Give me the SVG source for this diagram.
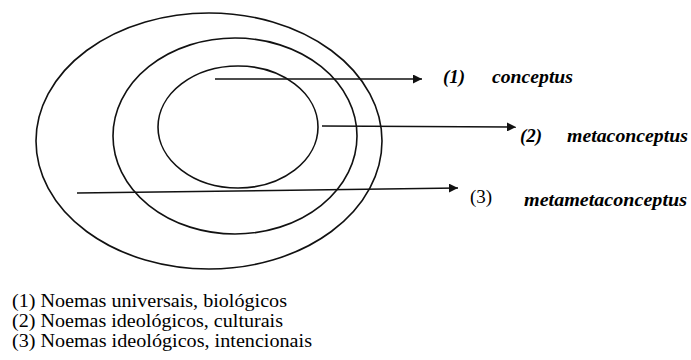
<svg xmlns="http://www.w3.org/2000/svg" width="691" height="360" viewBox="0 0 691 360">
<defs>
<style>
.ring{fill:none;stroke:#111;stroke-width:1.6}
.conn{fill:none;stroke:#111;stroke-width:1.5}
.lbl{font-size:19px;font-weight:bold;font-style:italic;fill:#000}
.num{font-size:19px;fill:#000}
.legend{font-size:19.5px;fill:#000}
</style>
<marker id="ah" viewBox="0 0 10 10" refX="10" refY="5" markerWidth="9" markerHeight="9" markerUnits="userSpaceOnUse" orient="auto">
<path d="M0,0 L10,5 L0,10 Z" fill="#111"/>
</marker>
</defs>
<rect width="691" height="360" fill="#fff"/>
<g id="outer"><ellipse class="ring" cx="209" cy="141" rx="173" ry="128"/></g>
<g id="middle"><ellipse class="ring" cx="235" cy="136" rx="122" ry="98"/></g>
<g id="inner"><ellipse class="ring" cx="238" cy="127" rx="80" ry="61"/></g>
<g id="connectors">
<line class="conn" x1="215" y1="79" x2="422" y2="79" marker-end="url(#ah)"/>
<line class="conn" x1="322" y1="126" x2="516" y2="127" marker-end="url(#ah)"/>
<line class="conn" x1="77" y1="193" x2="458" y2="188" marker-end="url(#ah)"/>
</g>
<g id="label1">
<text class="lbl" font-family="Liberation Serif" x="443" y="83">(1)</text>
<text class="lbl" font-family="Liberation Serif" x="492" y="83" textLength="81" lengthAdjust="spacingAndGlyphs">conceptus</text>
</g>
<g id="label2">
<text class="lbl" font-family="Liberation Serif" x="520" y="142">(2)</text>
<text class="lbl" font-family="Liberation Serif" x="567" y="142" textLength="121" lengthAdjust="spacingAndGlyphs">metaconceptus</text>
</g>
<g id="label3">
<text class="num" font-family="Liberation Serif" x="470" y="203">(3)</text>
<text class="lbl" font-family="Liberation Serif" x="524" y="206" textLength="163" lengthAdjust="spacingAndGlyphs">metametaconceptus</text>
</g>
<g id="legend">
<text class="legend" font-family="Liberation Serif" x="12" y="307" textLength="275" lengthAdjust="spacingAndGlyphs">(1) Noemas universais, biológicos</text>
<text class="legend" font-family="Liberation Serif" x="12" y="327" textLength="271" lengthAdjust="spacingAndGlyphs">(2) Noemas ideológicos, culturais</text>
<text class="legend" font-family="Liberation Serif" x="12" y="347" textLength="300" lengthAdjust="spacingAndGlyphs">(3) Noemas ideológicos, intencionais</text>
</g>
</svg>
